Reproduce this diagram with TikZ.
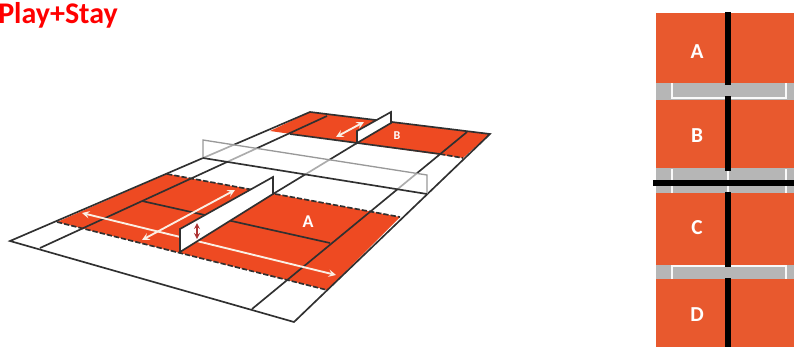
\documentclass[tikz,border=0pt]{standalone}
\usepackage{fontspec}
\usetikzlibrary{arrows.meta}
\setmainfont{Carlito}
\definecolor{courtred}{HTML}{EE4A22}
\definecolor{panelred}{HTML}{E8592E}
\definecolor{panelgray}{HTML}{B6B6B6}
\definecolor{courtline}{HTML}{303030}
\definecolor{arrowwhite}{HTML}{FBEFE4}
\tikzset{
  courtedge/.style={courtline, line width=1.25pt},
  dashededge/.style={courtline, line width=1.25pt, dash pattern=on 4pt off 1.5pt},
  wallface/.style={fill=white, draw=courtline, line width=1.25pt, line join=miter},
  playarrow/.style={<->, >={stealth[length=4pt, width=4pt]}, arrowwhite, line width=1.4pt},
  panelline/.style={white!92!panelgray, line width=1.3pt},
  panelbar/.style={black, line width=4.6pt},
  fieldlabel/.style={white, font=\bfseries\fontsize{16}{16}\selectfont, inner sep=0pt}
}
\begin{document}
\begin{tikzpicture}[x=0.75pt, y=-0.75pt]

  \useasboundingbox (0,0) rectangle (794,347);
  \clip (0,0) rectangle (794,347);

  % --- Eckpunkte Spielfeld ---
  \coordinate (FL) at (10,241);
  \coordinate (FR) at (294,322);
  \coordinate (BL) at (310,112);
  \coordinate (BR) at (490,134);
  \coordinate (IFL) at (40,248);
  \coordinate (IBL) at (327,116);
  \coordinate (IFR) at (252,309);
  \coordinate (IBR) at (467,132);

  % --- Rote Zonen ---
  \fill[courtred] (57,222) -- (167,174) -- (400,217) -- (327,290) -- cycle;
  \fill[courtred] (270,131) -- (BL) -- (BR) -- (463,158) -- cycle;

  % --- Linien ---
  \draw[courtedge, line join=miter] (FL) -- (FR) -- (BR) -- (BL) -- cycle;
  \draw[courtedge] (IFL) -- (IBL);
  \draw[courtedge] (IFR) -- (IBR);
  \draw[courtedge] (142,201) -- (330,243);
  \draw[courtedge] (273,194) -- (357,143);
  \draw[courtedge] (290,134) -- (440,154);
  \draw[dashededge] (57,222) -- (327,290);
  \draw[dashededge] (167,174) -- (400,217);
  \draw[dashededge] (440,154) -- (463,158);

  % --- Netz ---
  \fill[white, opacity=0.6] (203,140) -- (427,175) -- (427,194) -- (203,158) -- cycle;
  \draw[gray!80, line width=1pt] (203,158) -- (203,140) -- (427,175) -- (427,194);
  \draw[courtedge] (203,158) -- (427,194);

  % --- Pfeile ---
  \draw[playarrow] (82,213) -- (336,275);
  \draw[playarrow] (142,240) -- (235,190);
  \draw[playarrow] (336,137) -- (364,122);

  % --- Trennwaende ---
  \draw[wallface] (180,252) -- (180,229) -- (273,177) -- (273,194) -- cycle;
  \draw[wallface] (357,143) -- (357,131) -- (391,112) -- (391,123) -- cycle;
  \draw[<->, >={stealth[length=3.5pt, width=3.5pt]}, red!60!black!80, line width=1pt] (197,223) -- (197,239);

  % --- Beschriftung Spielfeld ---
  \node[fieldlabel, font=\bfseries\fontsize{13.5}{13.5}\selectfont] (labelA) at (308,222) {A};
  \node[fieldlabel, font=\bfseries\fontsize{9}{9}\selectfont] (labelB) at (397,136) {B};
  \node[red, anchor=base west, inner sep=0pt, font=\bfseries\fontsize{22.5}{22.5}\selectfont]
      (title) at (-2,23) {Play+Stay};

  % --- Rechte Tafel ---
  \fill[panelred] (656,13) rectangle (794,347);
  \fill[panelgray] (656,83) rectangle (794,100);
  \fill[panelgray] (656,168) rectangle (794,193);
  \fill[panelgray] (656,265) rectangle (794,279);

  \draw[panelline] (672,83) -- (672,98) -- (786,98) -- (786,83);
  \draw[panelline] (672,279) -- (672,266) -- (786,266) -- (786,279);
  \draw[panelline] (672,169) -- (672,193);
  \draw[panelline] (786,169) -- (786,193);
  \draw[panelline] (728,170) -- (728,193);

  \draw[panelbar] (728,12) -- (728,85);
  \draw[panelbar] (728,96) -- (728,171);
  \draw[panelbar] (728,192) -- (728,267);
  \draw[panelbar] (728,278) -- (728,347);
  \draw[panelbar, line width=5pt] (653,183) -- (794,183);

  \node[fieldlabel] (panelA) at (697,52) {A};
  \node[fieldlabel] (panelB) at (697,136) {B};
  \node[fieldlabel] (panelC) at (697,228) {C};
  \node[fieldlabel] (panelD) at (697,315) {D};

\end{tikzpicture}
\end{document}
